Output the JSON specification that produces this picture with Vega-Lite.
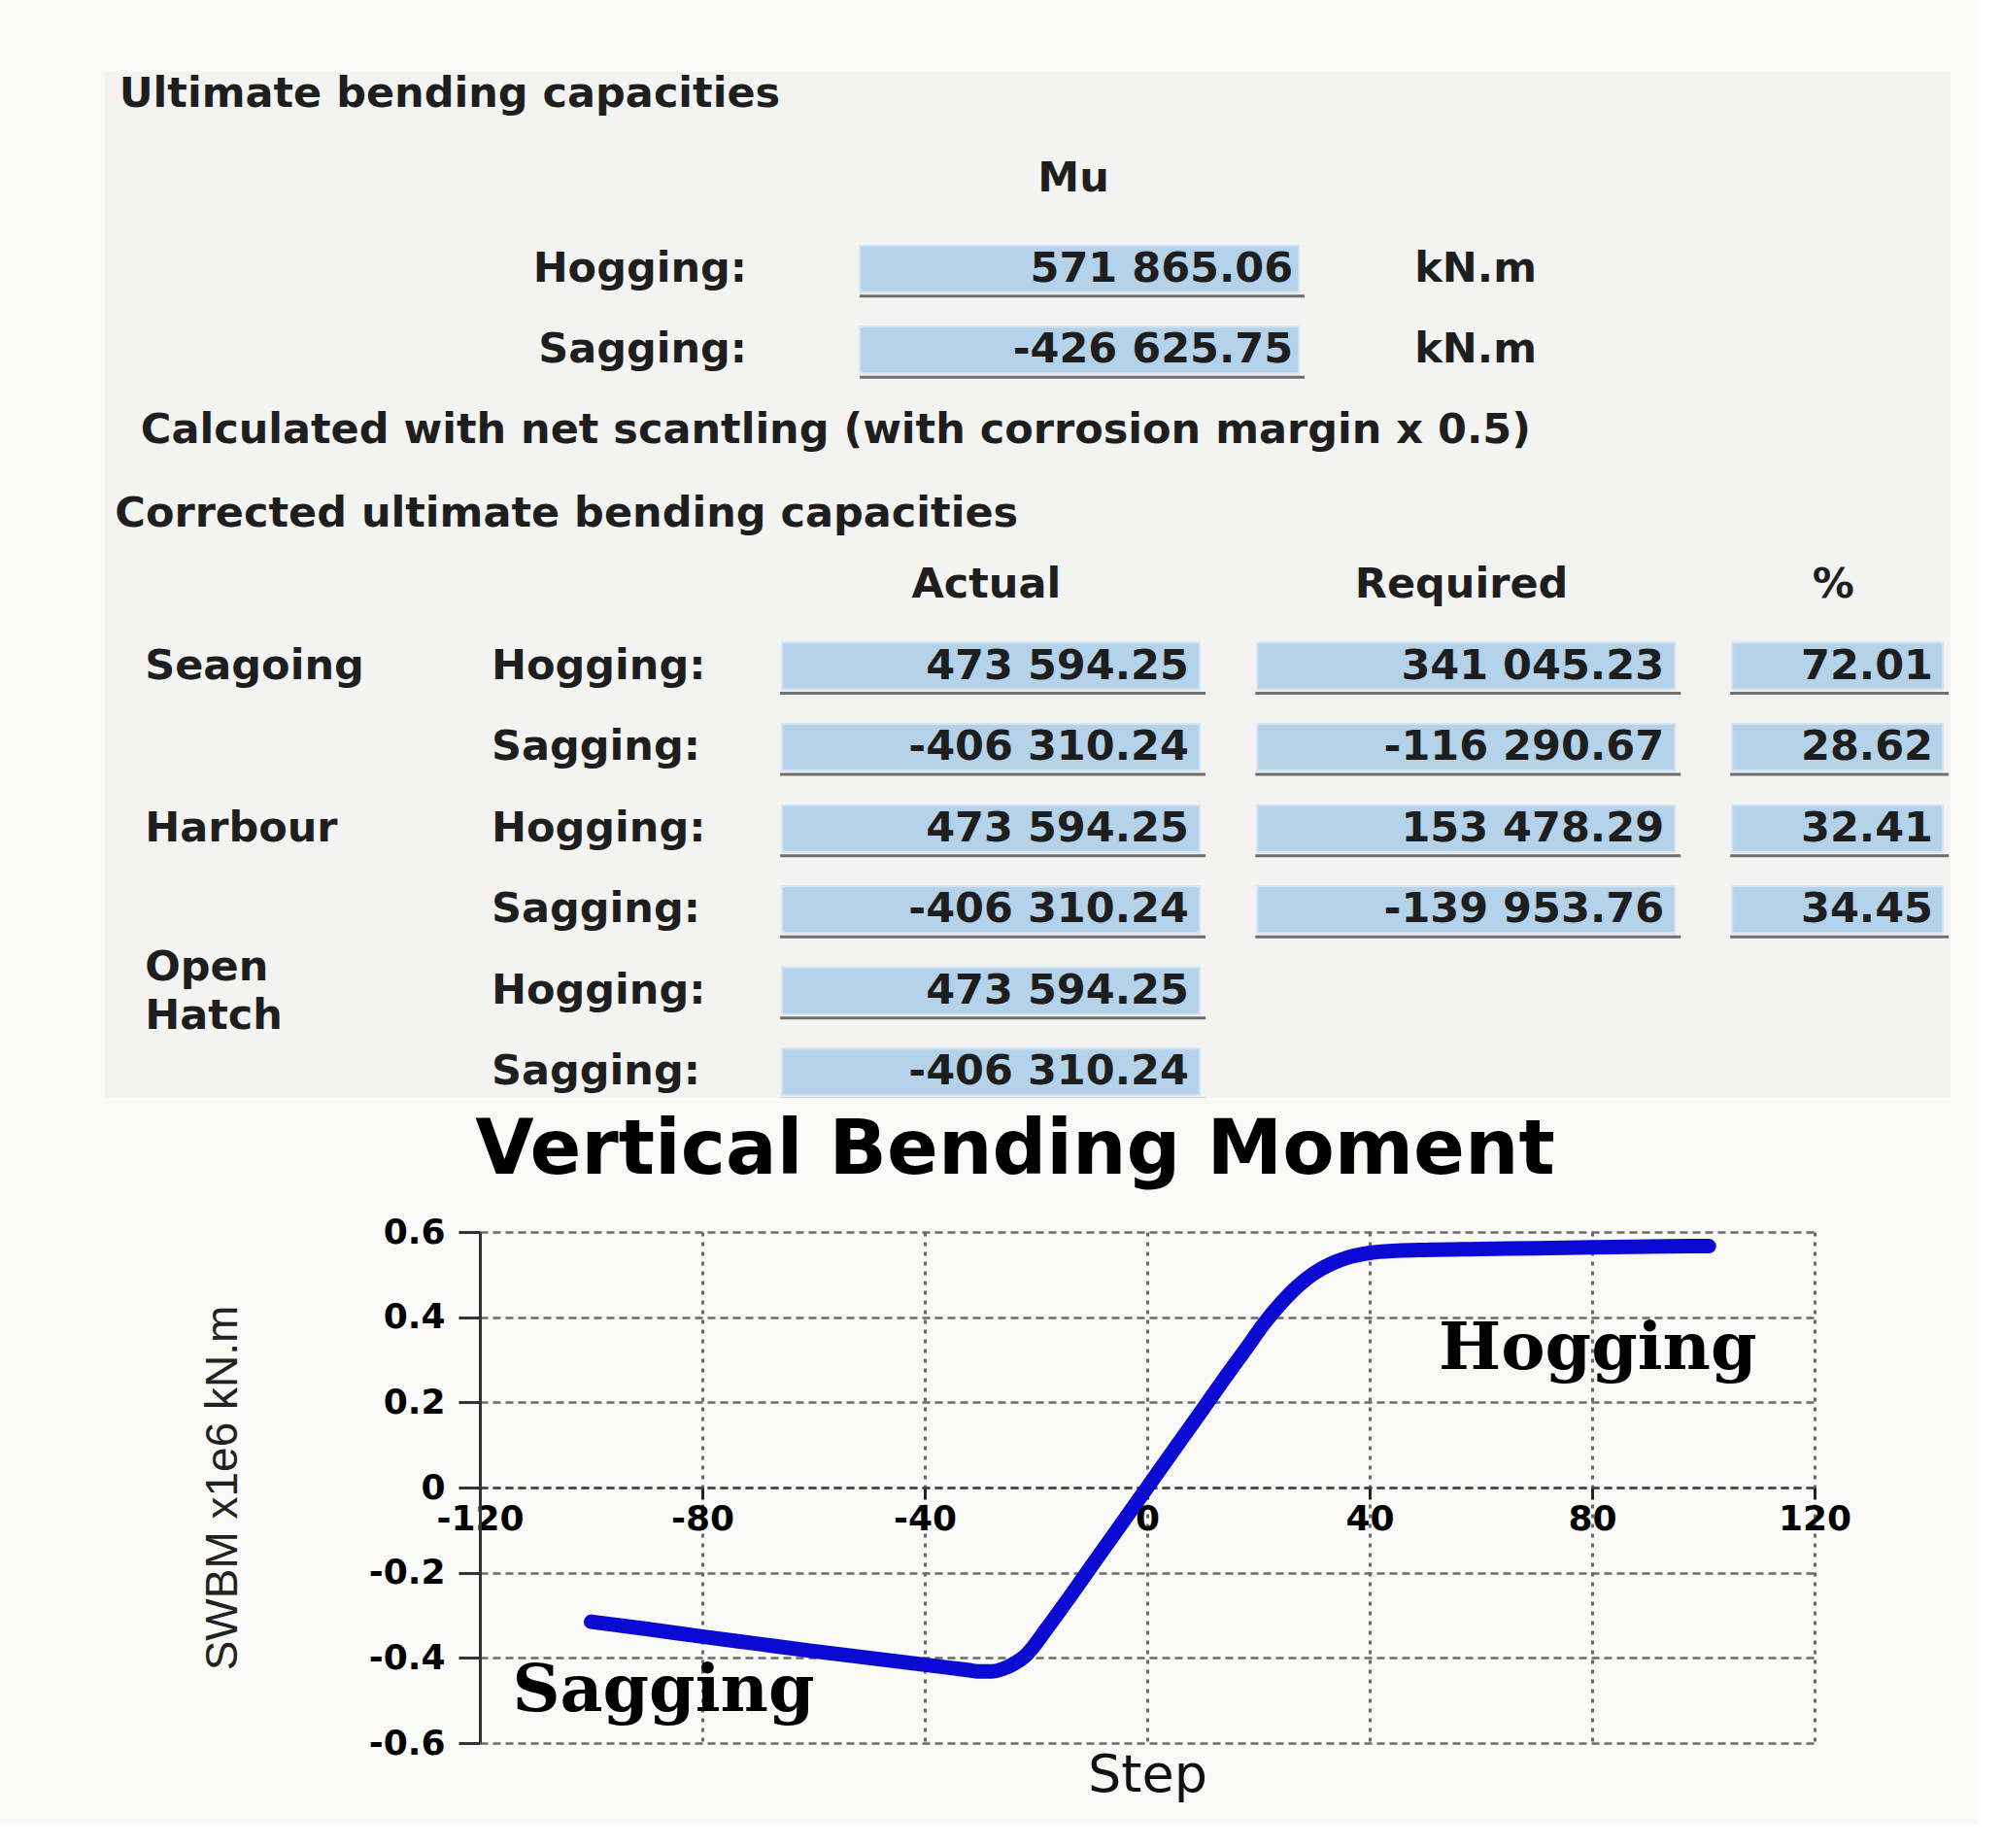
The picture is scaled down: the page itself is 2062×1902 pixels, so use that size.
{
  "$schema": "https://vega.github.io/schema/vega-lite/v6.json",
  "background": "#f9f9f7",
  "padding": {"left": 108, "top": 74, "right": 28, "bottom": 24},
  "config": {
    "view": {"stroke": null},
    "locale": {"number": {"decimal": ".", "thousands": " ", "grouping": [3], "currency": ["", ""], "minus": "-"}},
    "text": {"font": "DejaVu Sans", "fontWeight": "bold", "fontSize": 43, "color": "#1e1e1e", "baseline": "middle"}
  },
  "datasets": {
    "mu": [
      {"moment": "Hogging:", "line": "L03", "value": 571865.06, "unit": "kN.m"},
      {"moment": "Sagging:", "line": "L04", "value": -426625.75, "unit": "kN.m"}
    ],
    "corr": [
      {"condition": "Seagoing", "moment": "Hogging:", "line": "L08", "actual": 473594.25, "required": 341045.23, "pct": 72.01},
      {"condition": "Seagoing", "moment": "Sagging:", "line": "L09", "actual": -406310.24, "required": -116290.67, "pct": 28.62},
      {"condition": "Harbour", "moment": "Hogging:", "line": "L10", "actual": 473594.25, "required": 153478.29, "pct": 32.41},
      {"condition": "Harbour", "moment": "Sagging:", "line": "L11", "actual": -406310.24, "required": -139953.76, "pct": 34.45},
      {"condition": "Open Hatch", "moment": "Hogging:", "line": "L12", "actual": 473594.25, "required": null, "pct": null},
      {"condition": "Open Hatch", "moment": "Sagging:", "line": "L13", "actual": -406310.24, "required": null, "pct": null}
    ],
    "curve": [
      {"step": -100, "swbm": -0.315}, {"step": -90, "swbm": -0.332}, {"step": -80, "swbm": -0.35},
      {"step": -70, "swbm": -0.367}, {"step": -60, "swbm": -0.384}, {"step": -50, "swbm": -0.4},
      {"step": -40, "swbm": -0.416}, {"step": -35, "swbm": -0.424}, {"step": -32, "swbm": -0.429},
      {"step": -30, "swbm": -0.432}, {"step": -28, "swbm": -0.432}, {"step": -26, "swbm": -0.426},
      {"step": -24, "swbm": -0.414}, {"step": -22, "swbm": -0.396}, {"step": -18, "swbm": -0.33},
      {"step": -14, "swbm": -0.258}, {"step": -10, "swbm": -0.184}, {"step": -5, "swbm": -0.092},
      {"step": 0, "swbm": 0.0}, {"step": 5, "swbm": 0.092}, {"step": 10, "swbm": 0.184},
      {"step": 14, "swbm": 0.258}, {"step": 18, "swbm": 0.33}, {"step": 21, "swbm": 0.385},
      {"step": 24, "swbm": 0.432}, {"step": 27, "swbm": 0.472}, {"step": 30, "swbm": 0.503},
      {"step": 33, "swbm": 0.525}, {"step": 36, "swbm": 0.54}, {"step": 40, "swbm": 0.551},
      {"step": 45, "swbm": 0.556}, {"step": 50, "swbm": 0.558}, {"step": 60, "swbm": 0.56},
      {"step": 70, "swbm": 0.562}, {"step": 80, "swbm": 0.564}, {"step": 90, "swbm": 0.566},
      {"step": 101, "swbm": 0.567}
    ],
    "ann": [
      {"step": 81, "swbm": 0.325, "label": "Hogging"},
      {"step": -87, "swbm": -0.478, "label": "Sagging"}
    ]
  },
  "spacing": 16,
  "vconcat": [
    {
      "width": 1900,
      "height": 1056,
      "view": {"fill": "#f3f3f1", "stroke": null},
      "layer": [
        {
          "data": {"values": [{"line": "L01", "text": "Ultimate bending capacities"}]},
          "mark": {"type": "text", "align": "left", "dy": -4},
          "encoding": {
            "x": {"datum": "actual", "type": "nominal", "bandPosition": -3.14, "scale": {"type": "band", "domain": ["actual", "required", "pct"], "paddingInner": 0.556, "paddingOuter": 0.72, "align": 0.989}, "axis": null},
            "y": {"field": "line", "type": "nominal", "scale": {"type": "point", "domain": ["L01","L02","L03","L04","L05","L06","L07","L08","L09","L10","L11","L12","L13"], "padding": 0.32}, "axis": null},
            "text": {"field": "text"}
          }
        },
        {
          "data": {"values": [{"line": "L06", "text": "Corrected ultimate bending capacities"}]},
          "mark": {"type": "text", "align": "left", "dy": 11},
          "encoding": {
            "x": {"datum": "actual", "type": "nominal", "bandPosition": -3.16, "scale": {"type": "band", "domain": ["actual", "required", "pct"], "paddingInner": 0.556, "paddingOuter": 0.72, "align": 0.989}, "axis": null},
            "y": {"field": "line", "type": "nominal", "scale": {"type": "point", "domain": ["L01","L02","L03","L04","L05","L06","L07","L08","L09","L10","L11","L12","L13"], "padding": 0.32}, "axis": null},
            "text": {"field": "text"}
          }
        },
        {
          "data": {"values": [{"line": "L02", "text": "Mu"}]},
          "mark": {"type": "text", "align": "center"},
          "encoding": {
            "x": {"datum": "actual", "type": "nominal", "bandPosition": 1.383, "scale": {"type": "band", "domain": ["actual", "required", "pct"], "paddingInner": 0.556, "paddingOuter": 0.72, "align": 0.989}, "axis": null},
            "y": {"field": "line", "type": "nominal", "scale": {"type": "point", "domain": ["L01","L02","L03","L04","L05","L06","L07","L08","L09","L10","L11","L12","L13"], "padding": 0.32}, "axis": null},
            "text": {"field": "text"}
          }
        },
        {
          "data": {"values": [{"line": "L05", "text": "Calculated with net scantling (with corrosion margin x 0.5)"}]},
          "mark": {"type": "text", "align": "left", "dy": 8},
          "encoding": {
            "x": {"datum": "actual", "type": "nominal", "bandPosition": -3.038, "scale": {"type": "band", "domain": ["actual", "required", "pct"], "paddingInner": 0.556, "paddingOuter": 0.72, "align": 0.989}, "axis": null},
            "y": {"field": "line", "type": "nominal", "scale": {"type": "point", "domain": ["L01","L02","L03","L04","L05","L06","L07","L08","L09","L10","L11","L12","L13"], "padding": 0.32}, "axis": null},
            "text": {"field": "text"}
          }
        },
        {
          "data": {"name": "mu"},
          "mark": {"type": "rect", "width": 452, "height": 48, "xOffset": 197.8, "yOffset": 9, "fill": "#b4d2ea", "stroke": "#d3e5f3", "strokeWidth": 2},
          "encoding": {
            "x": {"datum": "actual", "type": "nominal", "scale": {"type": "band", "domain": ["actual", "required", "pct"], "paddingInner": 0.556, "paddingOuter": 0.72, "align": 0.989}, "axis": null},
            "y": {"field": "line", "type": "nominal", "scale": {"type": "point", "domain": ["L01","L02","L03","L04","L05","L06","L07","L08","L09","L10","L11","L12","L13"], "padding": 0.32}, "axis": null}
          }
        },
        {
          "data": {"name": "mu"},
          "mark": {"type": "rect", "width": 458, "height": 3, "xOffset": 200.8, "yOffset": 37, "fill": "#6e6e6e"},
          "encoding": {
            "x": {"datum": "actual", "type": "nominal", "scale": {"type": "band", "domain": ["actual", "required", "pct"], "paddingInner": 0.556, "paddingOuter": 0.72, "align": 0.989}, "axis": null},
            "y": {"field": "line", "type": "nominal", "scale": {"type": "point", "domain": ["L01","L02","L03","L04","L05","L06","L07","L08","L09","L10","L11","L12","L13"], "padding": 0.32}, "axis": null}
          }
        },
        {
          "data": {"name": "mu"},
          "mark": {"type": "text", "align": "right", "dy": 9},
          "encoding": {
            "x": {"datum": "actual", "type": "nominal", "bandPosition": -0.164, "scale": {"type": "band", "domain": ["actual", "required", "pct"], "paddingInner": 0.556, "paddingOuter": 0.72, "align": 0.989}, "axis": null},
            "y": {"field": "line", "type": "nominal", "scale": {"type": "point", "domain": ["L01","L02","L03","L04","L05","L06","L07","L08","L09","L10","L11","L12","L13"], "padding": 0.32}, "axis": null},
            "text": {"field": "moment"}
          }
        },
        {
          "data": {"name": "mu"},
          "mark": {"type": "text", "align": "right", "dy": 9},
          "encoding": {
            "x": {"datum": "actual", "type": "nominal", "bandPosition": 2.424, "scale": {"type": "band", "domain": ["actual", "required", "pct"], "paddingInner": 0.556, "paddingOuter": 0.72, "align": 0.989}, "axis": null},
            "y": {"field": "line", "type": "nominal", "scale": {"type": "point", "domain": ["L01","L02","L03","L04","L05","L06","L07","L08","L09","L10","L11","L12","L13"], "padding": 0.32}, "axis": null},
            "text": {"field": "value", "type": "quantitative", "format": ",.2f"}
          }
        },
        {
          "data": {"name": "mu"},
          "mark": {"type": "text", "align": "left", "dy": 9},
          "encoding": {
            "x": {"datum": "actual", "type": "nominal", "bandPosition": 3.0, "scale": {"type": "band", "domain": ["actual", "required", "pct"], "paddingInner": 0.556, "paddingOuter": 0.72, "align": 0.989}, "axis": null},
            "y": {"field": "line", "type": "nominal", "scale": {"type": "point", "domain": ["L01","L02","L03","L04","L05","L06","L07","L08","L09","L10","L11","L12","L13"], "padding": 0.32}, "axis": null},
            "text": {"field": "unit"}
          }
        },
        {
          "data": {"values": [{"line": "L07", "col": "actual", "text": "Actual"}, {"line": "L07", "col": "required", "text": "Required"}]},
          "mark": {"type": "text", "align": "center"},
          "encoding": {
            "x": {"field": "col", "type": "nominal", "bandPosition": 0.97, "scale": {"type": "band", "domain": ["actual", "required", "pct"], "paddingInner": 0.556, "paddingOuter": 0.72, "align": 0.989}, "axis": null},
            "y": {"field": "line", "type": "nominal", "scale": {"type": "point", "domain": ["L01","L02","L03","L04","L05","L06","L07","L08","L09","L10","L11","L12","L13"], "padding": 0.32}, "axis": null},
            "text": {"field": "text"}
          }
        },
        {
          "data": {"values": [{"line": "L07", "col": "pct", "text": "%"}]},
          "mark": {"type": "text", "align": "center"},
          "encoding": {
            "x": {"field": "col", "type": "nominal", "bandPosition": 0.48, "scale": {"type": "band", "domain": ["actual", "required", "pct"], "paddingInner": 0.556, "paddingOuter": 0.72, "align": 0.989}, "axis": null},
            "y": {"field": "line", "type": "nominal", "scale": {"type": "point", "domain": ["L01","L02","L03","L04","L05","L06","L07","L08","L09","L10","L11","L12","L13"], "padding": 0.32}, "axis": null},
            "text": {"field": "text"}
          }
        },
        {
          "data": {"name": "corr"},
          "transform": [{"filter": "datum.moment === 'Hogging:' && datum.condition !== 'Open Hatch'"}],
          "mark": {"type": "text", "align": "left"},
          "encoding": {
            "x": {"datum": "actual", "type": "nominal", "bandPosition": -3.018, "scale": {"type": "band", "domain": ["actual", "required", "pct"], "paddingInner": 0.556, "paddingOuter": 0.72, "align": 0.989}, "axis": null},
            "y": {"field": "line", "type": "nominal", "scale": {"type": "point", "domain": ["L01","L02","L03","L04","L05","L06","L07","L08","L09","L10","L11","L12","L13"], "padding": 0.32}, "axis": null},
            "text": {"field": "condition"}
          }
        },
        {
          "data": {"name": "corr"},
          "transform": [{"filter": "datum.moment === 'Hogging:' && datum.condition === 'Open Hatch'"}],
          "mark": {"type": "text", "align": "left", "lineBreak": " ", "lineHeight": 50, "dy": -24},
          "encoding": {
            "x": {"datum": "actual", "type": "nominal", "bandPosition": -3.018, "scale": {"type": "band", "domain": ["actual", "required", "pct"], "paddingInner": 0.556, "paddingOuter": 0.72, "align": 0.989}, "axis": null},
            "y": {"field": "line", "type": "nominal", "scale": {"type": "point", "domain": ["L01","L02","L03","L04","L05","L06","L07","L08","L09","L10","L11","L12","L13"], "padding": 0.32}, "axis": null},
            "text": {"field": "condition"}
          }
        },
        {
          "data": {"name": "corr"},
          "mark": {"type": "text", "align": "left"},
          "encoding": {
            "x": {"datum": "actual", "type": "nominal", "bandPosition": -1.375, "scale": {"type": "band", "domain": ["actual", "required", "pct"], "paddingInner": 0.556, "paddingOuter": 0.72, "align": 0.989}, "axis": null},
            "y": {"field": "line", "type": "nominal", "scale": {"type": "point", "domain": ["L01","L02","L03","L04","L05","L06","L07","L08","L09","L10","L11","L12","L13"], "padding": 0.32}, "axis": null},
            "text": {"field": "moment"}
          }
        },
        {
          "data": {"name": "corr"},
          "transform": [{"fold": ["actual", "required"], "as": ["col", "val"]}, {"filter": "isValid(datum.val)"}],
          "mark": {"type": "rect", "width": 430, "height": 48, "xOffset": 106.8, "fill": "#b4d2ea", "stroke": "#d3e5f3", "strokeWidth": 2},
          "encoding": {
            "x": {"field": "col", "type": "nominal", "scale": {"type": "band", "domain": ["actual", "required", "pct"], "paddingInner": 0.556, "paddingOuter": 0.72, "align": 0.989}, "axis": null},
            "y": {"field": "line", "type": "nominal", "scale": {"type": "point", "domain": ["L01","L02","L03","L04","L05","L06","L07","L08","L09","L10","L11","L12","L13"], "padding": 0.32}, "axis": null}
          }
        },
        {
          "data": {"name": "corr"},
          "transform": [{"fold": ["actual", "required"], "as": ["col", "val"]}, {"filter": "isValid(datum.val)"}],
          "mark": {"type": "rect", "width": 438, "height": 3, "xOffset": 108.8, "yOffset": 28, "fill": "#6e6e6e", "clip": true},
          "encoding": {
            "x": {"field": "col", "type": "nominal", "scale": {"type": "band", "domain": ["actual", "required", "pct"], "paddingInner": 0.556, "paddingOuter": 0.72, "align": 0.989}, "axis": null},
            "y": {"field": "line", "type": "nominal", "scale": {"type": "point", "domain": ["L01","L02","L03","L04","L05","L06","L07","L08","L09","L10","L11","L12","L13"], "padding": 0.32}, "axis": null}
          }
        },
        {
          "data": {"name": "corr"},
          "transform": [{"fold": ["actual", "required"], "as": ["col", "val"]}, {"filter": "isValid(datum.val)"}],
          "mark": {"type": "text", "align": "right"},
          "encoding": {
            "x": {"field": "col", "type": "nominal", "bandPosition": 1.93, "scale": {"type": "band", "domain": ["actual", "required", "pct"], "paddingInner": 0.556, "paddingOuter": 0.72, "align": 0.989}, "axis": null},
            "y": {"field": "line", "type": "nominal", "scale": {"type": "point", "domain": ["L01","L02","L03","L04","L05","L06","L07","L08","L09","L10","L11","L12","L13"], "padding": 0.32}, "axis": null},
            "text": {"field": "val", "type": "quantitative", "format": ",.2f"}
          }
        },
        {
          "data": {"name": "corr"},
          "transform": [{"filter": "isValid(datum.pct)"}],
          "mark": {"type": "rect", "width": 217, "height": 48, "fill": "#b4d2ea", "stroke": "#d3e5f3", "strokeWidth": 2},
          "encoding": {
            "x": {"datum": "pct", "type": "nominal", "scale": {"type": "band", "domain": ["actual", "required", "pct"], "paddingInner": 0.556, "paddingOuter": 0.72, "align": 0.989}, "axis": null},
            "y": {"field": "line", "type": "nominal", "scale": {"type": "point", "domain": ["L01","L02","L03","L04","L05","L06","L07","L08","L09","L10","L11","L12","L13"], "padding": 0.32}, "axis": null}
          }
        },
        {
          "data": {"name": "corr"},
          "transform": [{"filter": "isValid(datum.pct)"}],
          "mark": {"type": "rect", "width": 225, "height": 3, "xOffset": 2, "yOffset": 28, "fill": "#6e6e6e", "clip": true},
          "encoding": {
            "x": {"datum": "pct", "type": "nominal", "scale": {"type": "band", "domain": ["actual", "required", "pct"], "paddingInner": 0.556, "paddingOuter": 0.72, "align": 0.989}, "axis": null},
            "y": {"field": "line", "type": "nominal", "scale": {"type": "point", "domain": ["L01","L02","L03","L04","L05","L06","L07","L08","L09","L10","L11","L12","L13"], "padding": 0.32}, "axis": null}
          }
        },
        {
          "data": {"name": "corr"},
          "transform": [{"filter": "isValid(datum.pct)"}],
          "mark": {"type": "text", "align": "right"},
          "encoding": {
            "x": {"datum": "pct", "type": "nominal", "bandPosition": 0.953, "scale": {"type": "band", "domain": ["actual", "required", "pct"], "paddingInner": 0.556, "paddingOuter": 0.72, "align": 0.989}, "axis": null},
            "y": {"field": "line", "type": "nominal", "scale": {"type": "point", "domain": ["L01","L02","L03","L04","L05","L06","L07","L08","L09","L10","L11","L12","L13"], "padding": 0.32}, "axis": null},
            "text": {"field": "pct", "type": "quantitative", "format": ".2f"}
          }
        }
      ]
    },
    {
      "spacing": 0,
      "hconcat": [
        {
          "width": 98,
          "height": 10,
          "view": {"fill": "#f9f9f7", "stroke": null},
          "data": {"values": [{}]},
          "mark": {"type": "text"},
          "encoding": {"text": {"value": ""}}
        },
        {
          "width": 1374,
          "height": 526,
          "title": {"text": "Vertical Bending Moment", "font": "DejaVu Sans", "fontSize": 78, "fontWeight": "bold", "color": "#000000", "anchor": "middle", "dx": -136, "offset": -36, "baseline": "alphabetic"},
          "layer": [
            {
              "data": {"name": "curve"},
              "mark": {"type": "line", "color": "#0a0ad2", "strokeWidth": 15, "strokeCap": "round", "strokeJoin": "round", "interpolate": "monotone"},
              "encoding": {
                "x": {
                  "field": "step", "type": "quantitative",
                  "scale": {"domain": [-120, 120], "nice": false, "zero": false},
                  "axis": {
                    "values": [-120, -80, -40, 0, 40, 80, 120], "format": "d", "offset": -263,
                    "domain": true, "domainColor": "#444444", "domainDash": [8, 5], "domainWidth": 2.5,
                    "ticks": true, "tickSize": 12, "tickWidth": 3, "tickColor": "#222222",
                    "labelFont": "DejaVu Sans", "labelFontWeight": "bold", "labelFontSize": 36, "labelColor": "#000000",
                    "labelPadding": 3, "labelFlush": false, "labelOverlap": false, "labelBound": false,
                    "grid": true, "gridColor": "#6a6a6a", "gridDash": [4, 6], "gridWidth": 3,
                    "title": "Step", "titleFont": "DejaVu Sans", "titleFontWeight": "normal", "titleFontSize": 54, "titleColor": "#111111",
                    "titleY": 296, "titleBaseline": "middle"
                  }
                },
                "y": {
                  "field": "swbm", "type": "quantitative",
                  "scale": {"domain": [-0.6, 0.6], "nice": false, "zero": false},
                  "axis": {
                    "values": [-0.6, -0.4, -0.2, 0, 0.2, 0.4, 0.6], "format": ".1~f",
                    "domain": true, "domainColor": "#333333", "domainWidth": 3,
                    "ticks": true, "tickSize": 22, "tickWidth": 3, "tickColor": "#333333",
                    "labelFont": "DejaVu Sans", "labelFontWeight": "bold", "labelFontSize": 36, "labelColor": "#000000",
                    "labelPadding": 14, "labelFlush": false, "labelOverlap": false,
                    "grid": true, "gridColor": "#6a6a6a", "gridDash": [8, 5], "gridWidth": 2.5,
                    "title": "SWBM x1e6 kN.m", "titleFont": "Liberation Sans", "titleFontWeight": "normal", "titleFontSize": 46, "titleColor": "#222222",
                    "titleX": -265, "titleY": 263, "titleBaseline": "middle"
                  }
                }
              }
            },
            {
              "data": {"name": "ann"},
              "mark": {"type": "text", "font": "DejaVu Serif", "fontWeight": "bold", "fontSize": 68, "color": "#000000", "align": "center", "baseline": "middle"},
              "encoding": {
                "x": {"field": "step", "type": "quantitative"},
                "y": {"field": "swbm", "type": "quantitative"},
                "text": {"field": "label"}
              }
            }
          ]
        }
      ]
    }
  ]
}
